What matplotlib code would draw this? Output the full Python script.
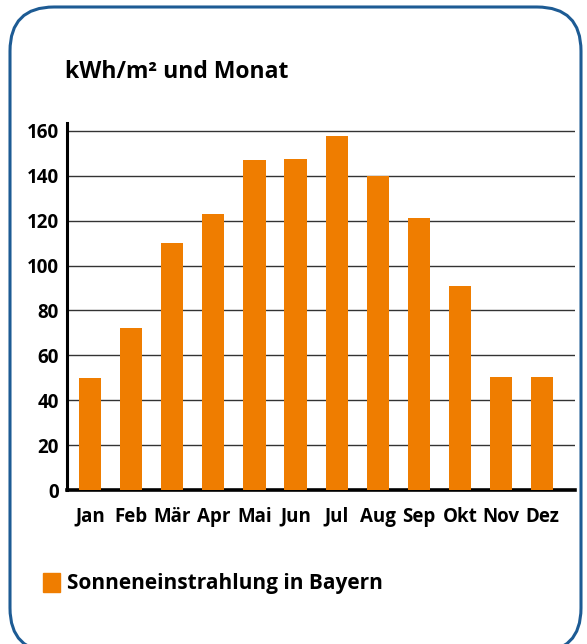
import matplotlib.pyplot as plt
from matplotlib.patches import FancyBboxPatch, Rectangle
import numpy as np

monate = ["Jan", "Feb", "Mär", "Apr", "Mai", "Jun", "Jul", "Aug", "Sep", "Okt", "Nov", "Dez"]
werte = [50, 72, 110, 123, 147, 147.5, 157.5, 140, 121, 91, 50.5, 50.5]
y_ticks = [0, 20, 40, 60, 80, 100, 120, 140, 160]

orange = "#ef7d00"
blau = "#1d5b94"

plt.rcParams['font.family'] = ['Open Sans', 'DejaVu Sans']

fig = plt.figure(figsize=(5.87, 6.44), dpi=100)
W, H = 587, 644

# abgerundeter Rahmen
rahmen = FancyBboxPatch((10 / W, -8 / H), 571 / W, 645 / H,
                        boxstyle="round,pad=0,rounding_size=0.075",
                        transform=fig.transFigure, fill=False,
                        edgecolor=blau, linewidth=2.2, mutation_aspect=W / H)
fig.patches.append(rahmen)

ax = fig.add_axes([67 / W, 1 - 490 / H, (575 - 67) / W, (490 - 123) / H])
x = np.arange(len(monate))
ax.set_axisbelow(True)
ax.yaxis.grid(True, color="#333333", linewidth=1.0)
ax.bar(x, werte, width=0.54, color=orange, zorder=3)

ax.set_xlim(-0.56, 11.8)
ax.set_ylim(0, 163.5)
ax.set_yticks(y_ticks)
ax.set_xticks(x)
ax.set_xticklabels(monate)
ax.tick_params(axis='both', length=0)
ax.tick_params(axis='y', pad=6, labelsize=13.5)
ax.tick_params(axis='x', pad=12, labelsize=13.5)
for lab in ax.get_xticklabels() + ax.get_yticklabels():
    lab.set_fontweight('bold')

# kleiner Strich bei 0
ax.set_yticks([0], minor=True)
ax.tick_params(axis='y', which='minor', length=5, width=2)

for s in ["top", "right"]:
    ax.spines[s].set_visible(False)
ax.spines["left"].set_linewidth(2.2)
ax.spines["bottom"].set_linewidth(2.6)

fig.text(65 / W, 1 - 72 / H, "kWh/m² und Monat", fontsize=16.5,
         fontweight='bold', va='center', ha='left')

# Legende
fig.patches.append(Rectangle((43 / W, 1 - 592 / H), 17 / W, 19 / H,
                             transform=fig.transFigure, color=orange))
fig.text(67 / W, 1 - 583 / H, "Sonneneinstrahlung in Bayern", fontsize=15,
         fontweight='bold', va='center', ha='left')

fig.savefig("out.png", dpi=100)
